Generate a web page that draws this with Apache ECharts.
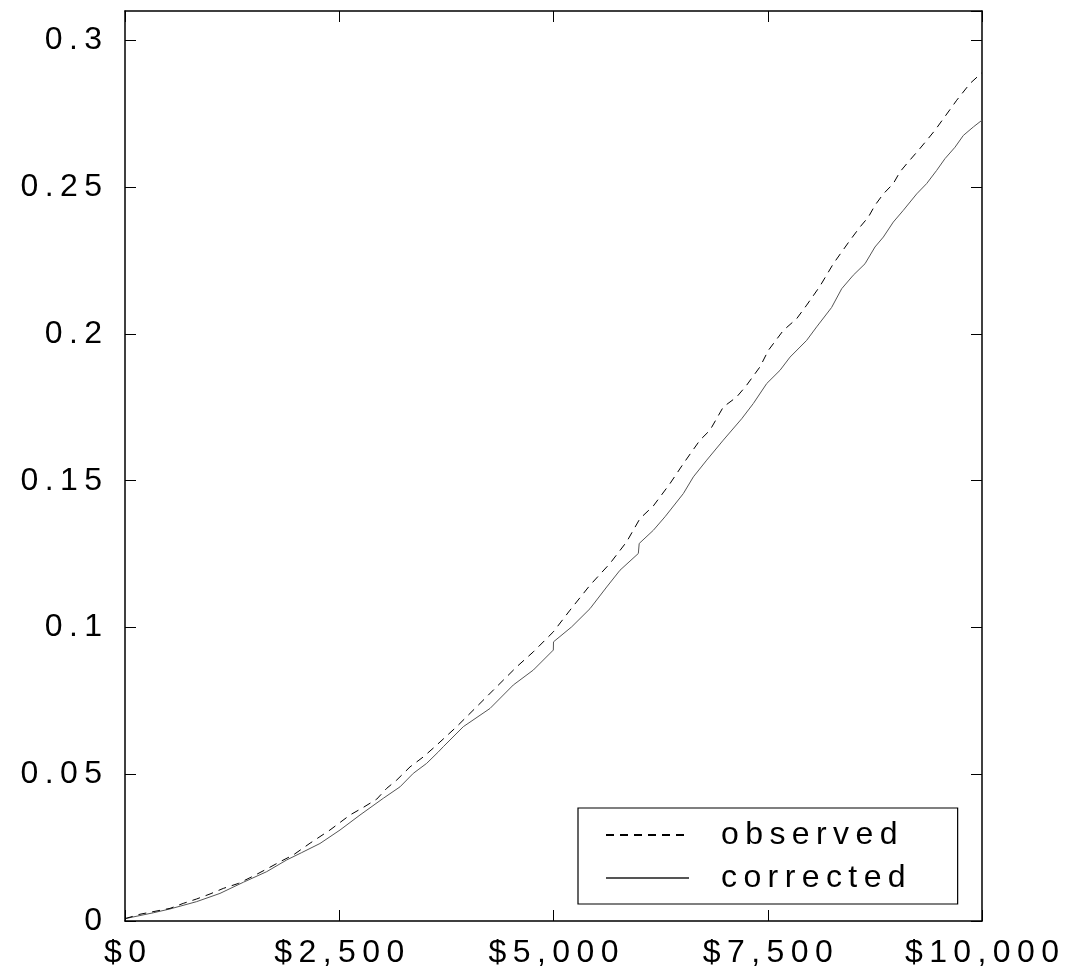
<!DOCTYPE html>
<html>
<head>
<meta charset="utf-8">
<script src="https://cdn.jsdelivr.net/npm/echarts@6/dist/echarts.min.js"></script>
<style>
html,body{margin:0;padding:0;background:#fff;}
#chart{width:1067px;height:973px;}
</style>
</head>
<body>
<div id="chart"></div>
<script>
// ---- data ----
var xTickValues = [0, 2500, 5000, 7500, 10000];
var xTickLabels = ['$0', '$2,500', '$5,000', '$7,500', '$10,000'];
var yTickValues = [0, 0.05, 0.1, 0.15, 0.2, 0.25, 0.3];
var yTickLabels = ['0', '0.05', '0.1', '0.15', '0.2', '0.25', '0.3'];
var seriesNames = ['observed', 'corrected'];

var obsDollars = [0,175,525,680,836,992,1147,1323,1497,1653,1809,1964,2159,2392,2625,2781,2937,3054,3170,3326,3481,3617,3870,4104,4337,4571,4765,4998,5193,5426,5659,5854,6009,6165,6359,6515,6709,6826,6981,7137,7253,7410,7507,7682,7838,7954,8110,8265,8460,8576,8674,8751,8849,8965,9043,9140,9257,9354,9452,9549,9705,9860,10000];
var obsShare = [0.0008,0.0023,0.0043,0.0060,0.0075,0.0092,0.0111,0.0128,0.0153,0.0177,0.0202,0.0225,0.0265,0.0310,0.0361,0.0387,0.0415,0.0452,0.0480,0.0525,0.0559,0.0594,0.0662,0.0730,0.0798,0.0866,0.0917,0.0985,0.1059,0.1144,0.1218,0.1292,0.1371,0.1414,0.1490,0.1558,0.1638,0.1672,0.1751,0.1785,0.1825,0.1888,0.1944,0.2012,0.2052,0.2098,0.2163,0.2239,0.2319,0.2364,0.2398,0.2438,0.2477,0.2512,0.2552,0.2586,0.2625,0.2659,0.2694,0.2733,0.2796,0.2853,0.2890];

var corDollars = [0,331,525,836,1108,1381,1653,1887,2062,2275,2509,2742,3014,3209,3364,3520,3656,3715,3948,4259,4531,4765,4998,5000,5212,5426,5621,5776,5990,6000,6165,6301,6515,6632,6788,6981,7196,7332,7488,7643,7760,7954,8071,8245,8363,8498,8635,8751,8849,8965,9082,9238,9354,9471,9568,9685,9782,9899,10000];
var corShare = [0.0008,0.0028,0.0041,0.0066,0.0094,0.0132,0.0168,0.0208,0.0233,0.0264,0.0310,0.0361,0.0418,0.0457,0.0503,0.0537,0.0576,0.0594,0.0662,0.0724,0.0804,0.0855,0.0923,0.0951,0.1002,0.1064,0.1138,0.1195,0.1252,0.1286,0.1331,0.1377,0.1456,0.1513,0.1570,0.1638,0.1711,0.1763,0.1831,0.1876,0.1921,0.1978,0.2024,0.2090,0.2154,0.2200,0.2239,0.2296,0.2330,0.2381,0.2421,0.2477,0.2512,0.2557,0.2597,0.2636,0.2676,0.2705,0.2728];

// ---- helpers ----
var SP = '\u2009';
function spaced(s){ return s.split('').join(SP); }
function pairs(xs, ys){ return xs.map(function(x,i){ return [x, ys[i]]; }); }
function labelFor(values, labels){
  return function(v){
    for (var i=0;i<values.length;i++){ if (Math.abs(values[i]-v) < 1e-9) return spaced(labels[i]); }
    return '';
  };
}

var FONT = 'Liberation Sans, Arial, sans-serif';
var axisLineStyle = {color:'#000', width:1.5};

var chart = echarts.init(document.getElementById('chart'), null, {renderer:'canvas'});
chart.setOption({
  animation:false,
  backgroundColor:'#fff',
  grid:{left:125, right:85, top:11, bottom:52, containLabel:false},
  xAxis:[{
    type:'value', min:0, max:10000, interval:2500, position:'bottom',
    axisLine:{show:true, onZero:false, lineStyle:axisLineStyle},
    axisTick:{show:true, inside:true, length:11, lineStyle:{color:'#000', width:1}},
    axisLabel:{show:true, margin:16, color:'#000', fontSize:32, fontFamily:FONT,
      formatter:labelFor(xTickValues, xTickLabels)},
    splitLine:{show:false}
  },{
    type:'value', min:0, max:10000, interval:2500, position:'top',
    axisLine:{show:true, onZero:false, lineStyle:axisLineStyle},
    axisTick:{show:true, inside:true, length:11, lineStyle:{color:'#000', width:1}},
    axisLabel:{show:false}, splitLine:{show:false}
  }],
  yAxis:[{
    type:'value', min:0, max:0.31, interval:0.05, position:'left',
    axisLine:{show:true, onZero:false, lineStyle:axisLineStyle},
    axisTick:{show:true, inside:true, length:11, lineStyle:{color:'#000', width:1}},
    axisLabel:{show:true, margin:23, color:'#000', fontSize:32, fontFamily:FONT,
      showMaxLabel:false, formatter:labelFor(yTickValues, yTickLabels)},
    splitLine:{show:false}
  },{
    type:'value', min:0, max:0.31, interval:0.05, position:'right',
    axisLine:{show:true, onZero:false, lineStyle:axisLineStyle},
    axisTick:{show:true, inside:true, length:11, lineStyle:{color:'#000', width:1}},
    axisLabel:{show:false}, splitLine:{show:false}
  }],
  legend:{
    orient:'vertical', left:578, top:808,
    data:seriesNames,
    backgroundColor:'#fff', borderColor:'#000', borderWidth:1.2,
    padding:[11, 52, 10, 27],
    itemWidth:83, itemHeight:14, itemGap:11,
    itemStyle:{opacity:0},
    textStyle:{color:'#000', fontSize:32, fontFamily:FONT, lineHeight:32, padding:[0,0,0,27]},
    formatter:function(n){ return spaced(n); }
  },
  series:[{
    name:seriesNames[0], type:'line', symbol:'none', xAxisIndex:0, yAxisIndex:0,
    data:pairs(obsDollars, obsShare),
    lineStyle:{color:'#000', width:1, type:[8,6]},
    itemStyle:{color:'#000'}, z:3
  },{
    name:seriesNames[1], type:'line', symbol:'none', xAxisIndex:0, yAxisIndex:0,
    data:pairs(corDollars, corShare),
    lineStyle:{color:'#555', width:1, type:'solid'},
    itemStyle:{color:'#555'}, z:2
  }]
});
</script>
</body>
</html>
